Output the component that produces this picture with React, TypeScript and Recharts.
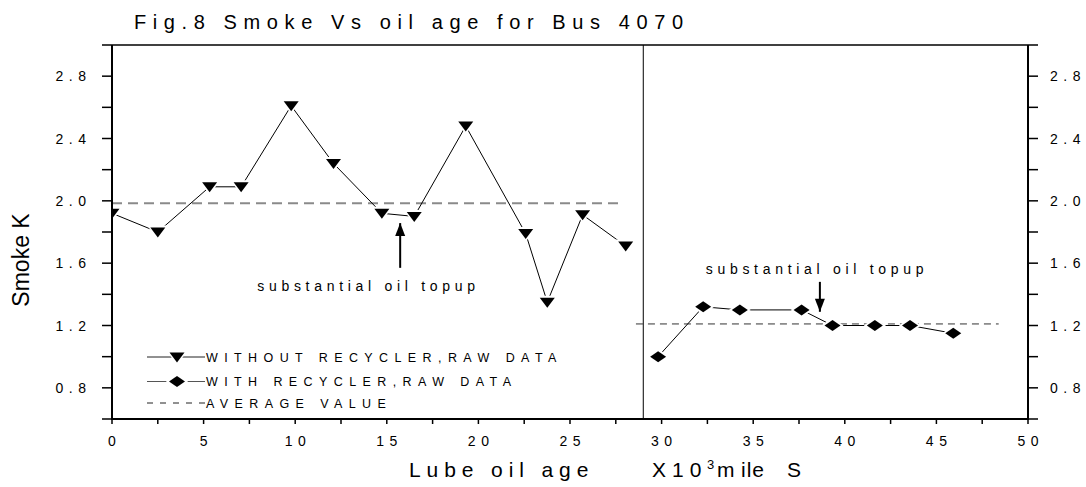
import React from 'react';
import { ComposedChart, Line, XAxis, YAxis, ReferenceLine, Scatter } from 'recharts';

const FONT = "'Liberation Sans', Arial, Helvetica, sans-serif";

// ---- data ----
const withoutRecyclerX = [0, 2.5, 5.33, 7.05, 9.78, 12.09, 14.73, 16.5, 19.31, 22.58, 23.76, 25.69, 28.04];
const withoutRecyclerY = [1.92, 1.8, 2.09, 2.09, 2.61, 2.24, 1.92, 1.9, 2.48, 1.79, 1.35, 1.91, 1.71];
const withRecyclerX = [29.81, 32.27, 34.27, 37.64, 39.33, 41.64, 43.56, 45.92];
const withRecyclerY = [1.0, 1.32, 1.3, 1.3, 1.2, 1.2, 1.2, 1.15];
const avgLeftX = [0, 27.9];
const avgLeftValue = 1.985;
const avgRightX = [28.6, 48.4];
const avgRightValue = 1.21;
const dividerX = 29;

const xDomain = [0, 50];
const yDomain = [0.6, 3.0];
const xTicks = [0, 2.5, 5, 7.5, 10, 12.5, 15, 17.5, 20, 22.5, 25, 27.5, 30, 32.5, 35, 37.5, 40, 42.5, 45, 47.5, 50];
const xLabelTicks = [0, 5, 10, 15, 20, 25, 30, 35, 40, 45, 50];
const yTicks = [0.6, 0.8, 1.0, 1.2, 1.4, 1.6, 1.8, 2.0, 2.2, 2.4, 2.6, 2.8, 3.0];
const yLabelTicks = [0.8, 1.2, 1.6, 2.0, 2.4, 2.8];

const annotationText = 'substantial oil topup';
const annotationX = [14.0, 38.48];
const annotationY = [1.449, 1.557];
const arrowX = [15.73, 38.64];
const arrowFromY = [1.57, 1.48];
const arrowToY = [1.857, 1.288];

const legendLabels = ['WITHOUT RECYCLER,RAW DATA', 'WITH RECYCLER,RAW DATA', 'AVERAGE VALUE'];

// ---- tables built from the arrays ----
const withoutData = withoutRecyclerX.map((x, i) => ({ x, y: withoutRecyclerY[i] }));
const withData = withRecyclerX.map((x, i) => ({ x, y: withRecyclerY[i] }));
const avgLeftData = avgLeftX.map((x) => ({ x, y: avgLeftValue }));
const avgRightData = avgRightX.map((x) => ({ x, y: avgRightValue }));
const annotationData = annotationX.map((x, i) => ({ x, y: annotationY[i], text: annotationText }));
const arrowHeadData = arrowX.map((x, i) => ({ x, y: arrowToY[i], up: arrowToY[i] > arrowFromY[i] }));

// plot-area layout (pixels)
const PLOT = { left: 112, top: 45, right: 1028, bottom: 419 };

const TriangleDot = (props: any) => {
  const { cx, cy } = props;
  if (cx == null || cy == null) return <g />;
  const w = 7.5, up = 4.5, dn = 5.5;
  return (
    <g>
      <polygon points={`${cx - w - 3},${cy - up - 2} ${cx + w + 3},${cy - up - 2} ${cx},${cy + dn + 3}`} fill="#fff" />
      <polygon points={`${cx - w},${cy - up} ${cx + w},${cy - up} ${cx},${cy + dn}`} fill="#000" />
    </g>
  );
};

const DiamondDot = (props: any) => {
  const { cx, cy } = props;
  if (cx == null || cy == null) return <g />;
  const w = 8, h = 5.5;
  return (
    <g>
      <polygon points={`${cx},${cy - h - 2.5} ${cx + w + 3},${cy} ${cx},${cy + h + 2.5} ${cx - w - 3},${cy}`} fill="#fff" />
      <polygon points={`${cx},${cy - h} ${cx + w},${cy} ${cx},${cy + h} ${cx - w},${cy}`} fill="#000" />
    </g>
  );
};

const AnnotationShape = (props: any) => {
  const { cx, cy, payload } = props;
  return (
    <text x={cx} y={cy + 4} textAnchor="middle" fontFamily={FONT} fontSize={14} letterSpacing={4.7} fill="#000">
      {payload.text}
    </text>
  );
};

const ArrowHeadShape = (props: any) => {
  const { cx, cy, payload } = props;
  const d = payload.up ? 1 : -1;
  return <polygon points={`${cx},${cy} ${cx - 5},${cy + d * 13} ${cx + 5},${cy + d * 13}`} fill="#000" />;
};

const XTick = (props: any) => {
  const { x, y, payload } = props;
  const v = payload.value;
  if (!xLabelTicks.some((t) => Math.abs(t - v) < 1e-6)) return <g />;
  return (
    <text x={x + 2.75} y={y + 20} textAnchor="middle" fontFamily={FONT} fontSize={14} letterSpacing={5.5} fill="#000">
      {String(v)}
    </text>
  );
};

const YTickLeft = (props: any) => {
  const { x, y, payload } = props;
  const v = payload.value;
  if (!yLabelTicks.some((t) => Math.abs(t - v) < 1e-6)) return <g />;
  return (
    <text x={x - 8.5} y={y + 5} textAnchor="end" fontFamily={FONT} fontSize={14} letterSpacing={5.5} fill="#000">
      {Number(v).toFixed(1)}
    </text>
  );
};

const YTickRight = (props: any) => {
  const { x, y, payload } = props;
  const v = payload.value;
  if (!yLabelTicks.some((t) => Math.abs(t - v) < 1e-6)) return <g />;
  return (
    <text x={x + 10} y={y + 5} textAnchor="start" fontFamily={FONT} fontSize={14} letterSpacing={5.5} fill="#000">
      {Number(v).toFixed(1)}
    </text>
  );
};

const Overlay = () => {
  const rowY = [357, 381.5, 403];
  return (
    <svg width={1086} height={487} style={{ position: 'absolute', left: 0, top: 0, pointerEvents: 'none' }}>
      {/* frame of the plot area */}
      <line x1={PLOT.left} x2={PLOT.left} y1={PLOT.top} y2={PLOT.bottom + 1} stroke="#000" strokeWidth={2} />
      <line x1={PLOT.right} x2={PLOT.right} y1={PLOT.top} y2={PLOT.bottom + 1} stroke="#000" strokeWidth={2} />
      <line x1={PLOT.left} x2={PLOT.right} y1={PLOT.top} y2={PLOT.top} stroke="#000" strokeWidth={1.5} />

      <text x={134} y={28.5} fontFamily={FONT} fontSize={20} letterSpacing={6.6} fill="#000">
        Fig.8 Smoke Vs oil age for Bus 4070
      </text>
      <text transform="translate(28.5,260) rotate(-90)" textAnchor="middle" fontFamily={FONT} fontSize={23} fill="#000">
        Smoke K
      </text>
      <text x={409} y={476.7} fontFamily={FONT} fontSize={21} letterSpacing={5.9} fill="#000">
        Lube oil age
      </text>
      <text x={652} y={476.7} fontFamily={FONT} fontSize={21} letterSpacing={6} fill="#000">X10</text>
      <text x={707} y={469} fontFamily={FONT} fontSize={13} fill="#000">3</text>
      <text x={717} y={476.7} fontFamily={FONT} fontSize={21} fill="#000">m</text>
      <text x={741} y={476.7} fontFamily={FONT} fontSize={21} letterSpacing={1} fill="#000">ile</text>
      <text x={787} y={476.7} fontFamily={FONT} fontSize={21} fill="#000">S</text>

      {/* legend */}
      <line x1={147} x2={205} y1={rowY[0]} y2={rowY[0]} stroke="#222" strokeWidth={1} />
      <TriangleDot cx={177} cy={rowY[0]} />
      <line x1={147} x2={205} y1={rowY[1]} y2={rowY[1]} stroke="#555" strokeWidth={1} />
      <DiamondDot cx={177} cy={rowY[1]} />
      <line x1={147} x2={205} y1={rowY[2]} y2={rowY[2]} stroke="#222" strokeWidth={1} strokeDasharray="6 7" />
      {legendLabels.map((l, i) => (
        <text key={l} x={206} y={rowY[i] + 4.5} fontFamily={FONT} fontSize={12.5} letterSpacing={6.4} fill="#000">
          {l}
        </text>
      ))}
    </svg>
  );
};

export default function App() {
  return (
    <div style={{ position: 'absolute', left: 0, top: 0, width: 1086, height: 487, background: '#fff' }}>
      <ComposedChart width={1086} height={487} margin={{ top: 45, right: 0, bottom: 0, left: 0 }}>
        <XAxis
          xAxisId="bottom"
          dataKey="x"
          type="number"
          domain={xDomain}
          ticks={xTicks}
          interval={0}
          height={68}
          tick={<XTick />}
          tickSize={5}
          tickMargin={2}
          stroke="#000"
          axisLine={{ stroke: '#000', strokeWidth: 2 }}
          tickLine={{ stroke: '#000', strokeWidth: 1.5 }}
          allowDataOverflow
        />
        <XAxis
          xAxisId="top"
          orientation="top"
          type="number"
          domain={xDomain}
          ticks={xTicks}
          interval={0}
          height={0}
          tick={false}
          tickSize={3}
          stroke="#000"
          axisLine={{ stroke: '#000', strokeWidth: 1.5 }}
          tickLine={{ stroke: '#000', strokeWidth: 1 }}
          allowDataOverflow
        />
        <YAxis
          yAxisId="left"
          dataKey="y"
          type="number"
          domain={yDomain}
          ticks={yTicks}
          interval={0}
          width={112}
          tick={<YTickLeft />}
          tickSize={10}
          tickMargin={2}
          stroke="#000"
          axisLine={{ stroke: '#000', strokeWidth: 2 }}
          tickLine={{ stroke: '#000', strokeWidth: 1.5 }}
          allowDataOverflow
        />
        <YAxis
          yAxisId="right"
          orientation="right"
          type="number"
          domain={yDomain}
          ticks={yTicks}
          interval={0}
          width={58}
          tick={<YTickRight />}
          tickSize={10}
          tickMargin={2}
          stroke="#000"
          axisLine={{ stroke: '#000', strokeWidth: 2 }}
          tickLine={{ stroke: '#000', strokeWidth: 1.5 }}
          allowDataOverflow
        />
        <ReferenceLine xAxisId="bottom" yAxisId="left" x={dividerX} stroke="#000" strokeWidth={1} />
        <Line
          xAxisId="bottom"
          yAxisId="left"
          data={avgLeftData}
          dataKey="y"
          type="linear"
          stroke="#8a8a8a"
          strokeWidth={2}
          strokeDasharray="10 6"
          dot={false}
          activeDot={false}
          isAnimationActive={false}
        />
        <Line
          xAxisId="bottom"
          yAxisId="left"
          data={avgRightData}
          dataKey="y"
          type="linear"
          stroke="#333"
          strokeWidth={1}
          strokeDasharray="7 5"
          dot={false}
          activeDot={false}
          isAnimationActive={false}
        />
        <Line
          xAxisId="bottom"
          yAxisId="left"
          data={withoutData}
          dataKey="y"
          type="linear"
          stroke="#000"
          strokeWidth={1}
          dot={<TriangleDot />}
          activeDot={false}
          isAnimationActive={false}
        />
        <Line
          xAxisId="bottom"
          yAxisId="left"
          data={withData}
          dataKey="y"
          type="linear"
          stroke="#000"
          strokeWidth={1}
          dot={<DiamondDot />}
          activeDot={false}
          isAnimationActive={false}
        />
        {arrowX.map((x, i) => (
          <ReferenceLine
            key={`arrow-${i}`}
            xAxisId="bottom"
            yAxisId="left"
            segment={[{ x, y: arrowFromY[i] }, { x, y: arrowToY[i] }]}
            stroke="#000"
            strokeWidth={2}
          />
        ))}
        <Scatter
          xAxisId="bottom"
          yAxisId="left"
          data={arrowHeadData}
          dataKey="y"
          shape={<ArrowHeadShape />}
          isAnimationActive={false}
        />
        <Scatter
          xAxisId="bottom"
          yAxisId="left"
          data={annotationData}
          dataKey="y"
          shape={<AnnotationShape />}
          isAnimationActive={false}
        />
      </ComposedChart>
      <Overlay />
    </div>
  );
}
